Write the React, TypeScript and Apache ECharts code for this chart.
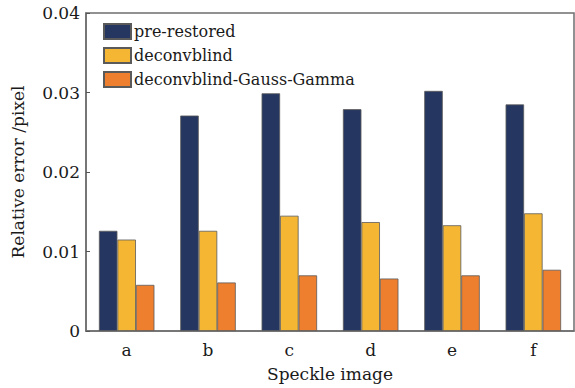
import React, { useEffect, useRef } from "react";
import * as echarts from "echarts";

const categories = ["a", "b", "c", "d", "e", "f"];
const seriesNames = ["pre-restored", "deconvblind", "deconvblind-Gauss-Gamma"];
const preRestored = [0.0126, 0.0271, 0.0299, 0.0279, 0.0302, 0.0285];
const deconvblind = [0.0115, 0.0126, 0.0145, 0.0137, 0.0133, 0.0148];
const gaussGamma = [0.0058, 0.0061, 0.007, 0.0066, 0.007, 0.0077];
const yTicks = ["0", "0.01", "0.02", "0.03", "0.04"];

const colors = ["#253760", "#f5b733", "#ee7f2e"];
const FONT = "DejaVu Serif";

export default function App() {
  const ref = useRef<HTMLDivElement>(null);
  useEffect(() => {
    if (!ref.current) return;
    const chart = echarts.init(ref.current, undefined, { renderer: "svg" });
    const values = [preRestored, deconvblind, gaussGamma];
    chart.setOption({
      animation: false,
      backgroundColor: "#ffffff",
      textStyle: { fontFamily: FONT },
      grid: {
        left: 86,
        right: 1,
        top: 13,
        bottom: 57,
        show: true,
        borderColor: "#6e6e6e",
        borderWidth: 1.5,
      },
      legend: {
        orient: "vertical",
        left: 98,
        top: 18,
        itemWidth: 27,
        itemHeight: 15,
        itemGap: 7,
        icon: "rect",
        textStyle: { fontFamily: FONT, fontSize: 16, color: "#1a1a1a", padding: [0, 0, 0, -2] },
        data: seriesNames,
      },
      xAxis: {
        type: "category",
        data: categories,
        name: "Speckle image",
        nameLocation: "middle",
        nameGap: 34,
        nameTextStyle: { fontFamily: FONT, fontSize: 17, color: "#1a1a1a" },
        axisLine: { lineStyle: { color: "#6e6e6e", width: 1.5 } },
        axisTick: { show: true, inside: true, alignWithLabel: true, length: 4, lineStyle: { color: "#555" } },
        axisLabel: { fontFamily: FONT, fontSize: 17, color: "#1a1a1a", margin: 10 },
      },
      yAxis: {
        type: "value",
        min: 0,
        max: 0.04,
        interval: 0.01,
        name: "Relative error /pixel",
        nameLocation: "middle",
        nameGap: 60,
        nameTextStyle: { fontFamily: FONT, fontSize: 17, color: "#1a1a1a" },
        axisLine: { show: true, lineStyle: { color: "#6e6e6e", width: 1.5 } },
        axisTick: { show: true, inside: true, length: 4, lineStyle: { color: "#555" } },
        splitLine: { show: false },
        axisLabel: {
          fontFamily: FONT,
          fontSize: 17,
          color: "#1a1a1a",
          margin: 6,
          formatter: (v: number) => yTicks[Math.round(v / 0.01)] ?? String(v),
        },
      },
      series: seriesNames.map((name, i) => ({
        name,
        type: "bar",
        data: values[i],
        barWidth: 18.5,
        barGap: "0%",
        itemStyle: { color: colors[i], borderColor: "#5a5a5a", borderWidth: 0.8 },
      })),
    });
    return () => chart.dispose();
  }, []);
  return (
    <div
      ref={ref}
      style={{ position: "absolute", left: 0, top: 0, width: 575, height: 388 }}
    />
  );
}
